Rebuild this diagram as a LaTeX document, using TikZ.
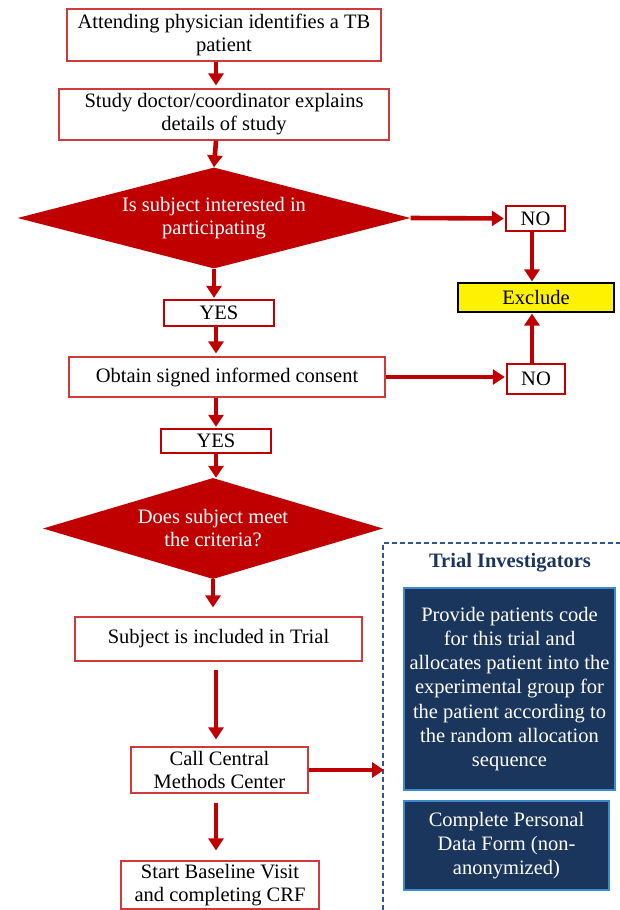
\documentclass[tikz,border=0pt]{standalone}
\usepackage{fontspec}
\setmainfont{Liberation Serif}
\usetikzlibrary{arrows.meta,shapes.geometric}
\definecolor{darkred}{HTML}{C00000}
\definecolor{boxred}{HTML}{D03A3A}
\definecolor{navy}{HTML}{1B365D}
\definecolor{edgeblue}{HTML}{3C8AD0}
\definecolor{dashblue}{HTML}{2F5597}
\begin{document}
\begin{tikzpicture}[x=1pt,y=-1pt,
    every node/.style={font=\fontsize{20.5}{23}\selectfont,align=center,inner sep=0pt},
    stepbox/.style={draw=boxred,line width=1.2pt,fill=white,minimum width=#1},
    answer/.style={draw=darkred,line width=2.4pt,fill=white,minimum width=#1},
    choice/.style={diamond,fill=darkred,text=white,minimum width=#1,minimum height=101pt},
    infobox/.style={draw=edgeblue,line width=1.3pt,fill=navy,text=white,
      font=\fontsize{20.5}{24.3}\selectfont},
    arr/.style={draw=darkred,line width=4.6pt,-{Triangle[length=12pt,width=15pt]},shorten >=3pt}]
  \useasboundingbox (0,0) rectangle (620,910);
  \coordinate (spine) at (216,0);
  \node[stepbox=314pt,minimum height=52pt] (ident) at (224,35) {Attending physician identifies a TB\\patient};
  \node[stepbox=330pt,minimum height=51pt] (explain) at (224,114.5) {Study doctor/coordinator explains\\details of study};
  \node[choice=393pt,aspect=3.9] (interest) at (214,218) {Is subject interested in\\participating};
  \node[answer=59pt,minimum height=25pt] (no1) at (535.5,218.5) {NO};
  \node[draw=black,line width=1.2pt,fill=yellow,minimum width=156pt,minimum height=29pt] (exclude) at (536,297.5) {Exclude};
  \node[answer=110pt,minimum height=26pt] (yes1) at (219,313) {YES};
  \node[stepbox=316pt,minimum height=40pt] (consent) at (227,377) {Obtain signed informed consent};
  \node[answer=58pt,minimum height=30pt] (no2) at (536,379) {NO};
  \node[answer=110pt,minimum height=24pt] (yes2) at (216,441) {YES};
  \node[choice=340pt,aspect=3.37] (criteria) at (213,528.5) {Does subject meet\\the criteria?};
  \node[stepbox=287pt,minimum height=44pt] (included) at (218.5,639) {Subject is included in Trial};
  \node[stepbox=177pt,minimum height=46pt] (call) at (219.5,770) {Call Central\\Methods Center};
  \node[stepbox=198pt,minimum height=48pt] (baseline) at (220,885) {Start Baseline Visit\\and completing CRF};

  % trial investigators panel
  \draw[dashblue,line width=1.2pt,dash pattern=on 5pt off 3pt] (383,910) -- (383,543) -- (620,543);
  \coordinate (panel) at (384,770);
  \node[font=\bfseries\fontsize{20.5}{23}\selectfont,text=navy] (invest) at (510,563) {Trial Investigators};
  \node[infobox,minimum width=211pt,minimum height=202pt] (allocate) at (509.5,689) {Provide patients code\\for this trial and\\allocates patient into the\\experimental group for\\the patient according to\\the random allocation\\sequence};
  \node[infobox,minimum width=205pt,minimum height=89pt] (dataform) at (506.5,845.5) {Complete Personal\\Data Form (non-\\anonymized)};

  \draw[arr] (ident.south -| spine) -- (explain.north -| spine);
  \draw[arr,shorten >=0pt] (explain.south -| spine) -- (interest.north);
  \draw[arr,shorten >=1pt] (interest.east) -- (no1.west);
  \draw[arr,shorten >=1pt] (no1.south -| 532,0) -- (exclude.north -| 532,0);
  \draw[arr,shorten >=1pt] (interest.south) -- (yes1.north -| interest.south);
  \draw[arr] (yes1.south -| spine) -- (consent.north -| spine);
  \draw[arr,shorten >=1pt] (consent.east) -- (no2.west |- consent.east);
  \draw[arr,shorten >=1pt] (no2.north -| 532,0) -- (exclude.south -| 532,0);
  \draw[arr,shorten >=1pt] (consent.south -| spine) -- (yes2.north -| spine);
  \draw[arr,shorten >=0pt] (yes2.south -| spine) -- (criteria.north -| spine);
  \draw[arr,shorten >=9pt] (criteria.south) -- (included.north -| criteria.south);
  \draw[arr,shorten <=8pt,shorten >=7pt] (included.south -| spine) -- (call.north -| spine);
  \draw[arr,shorten >=0pt] (call.east) -- (panel);
  \draw[arr,shorten <=9pt,shorten >=10pt] (call.south -| spine) -- (baseline.north -| spine);
\end{tikzpicture}
\end{document}
